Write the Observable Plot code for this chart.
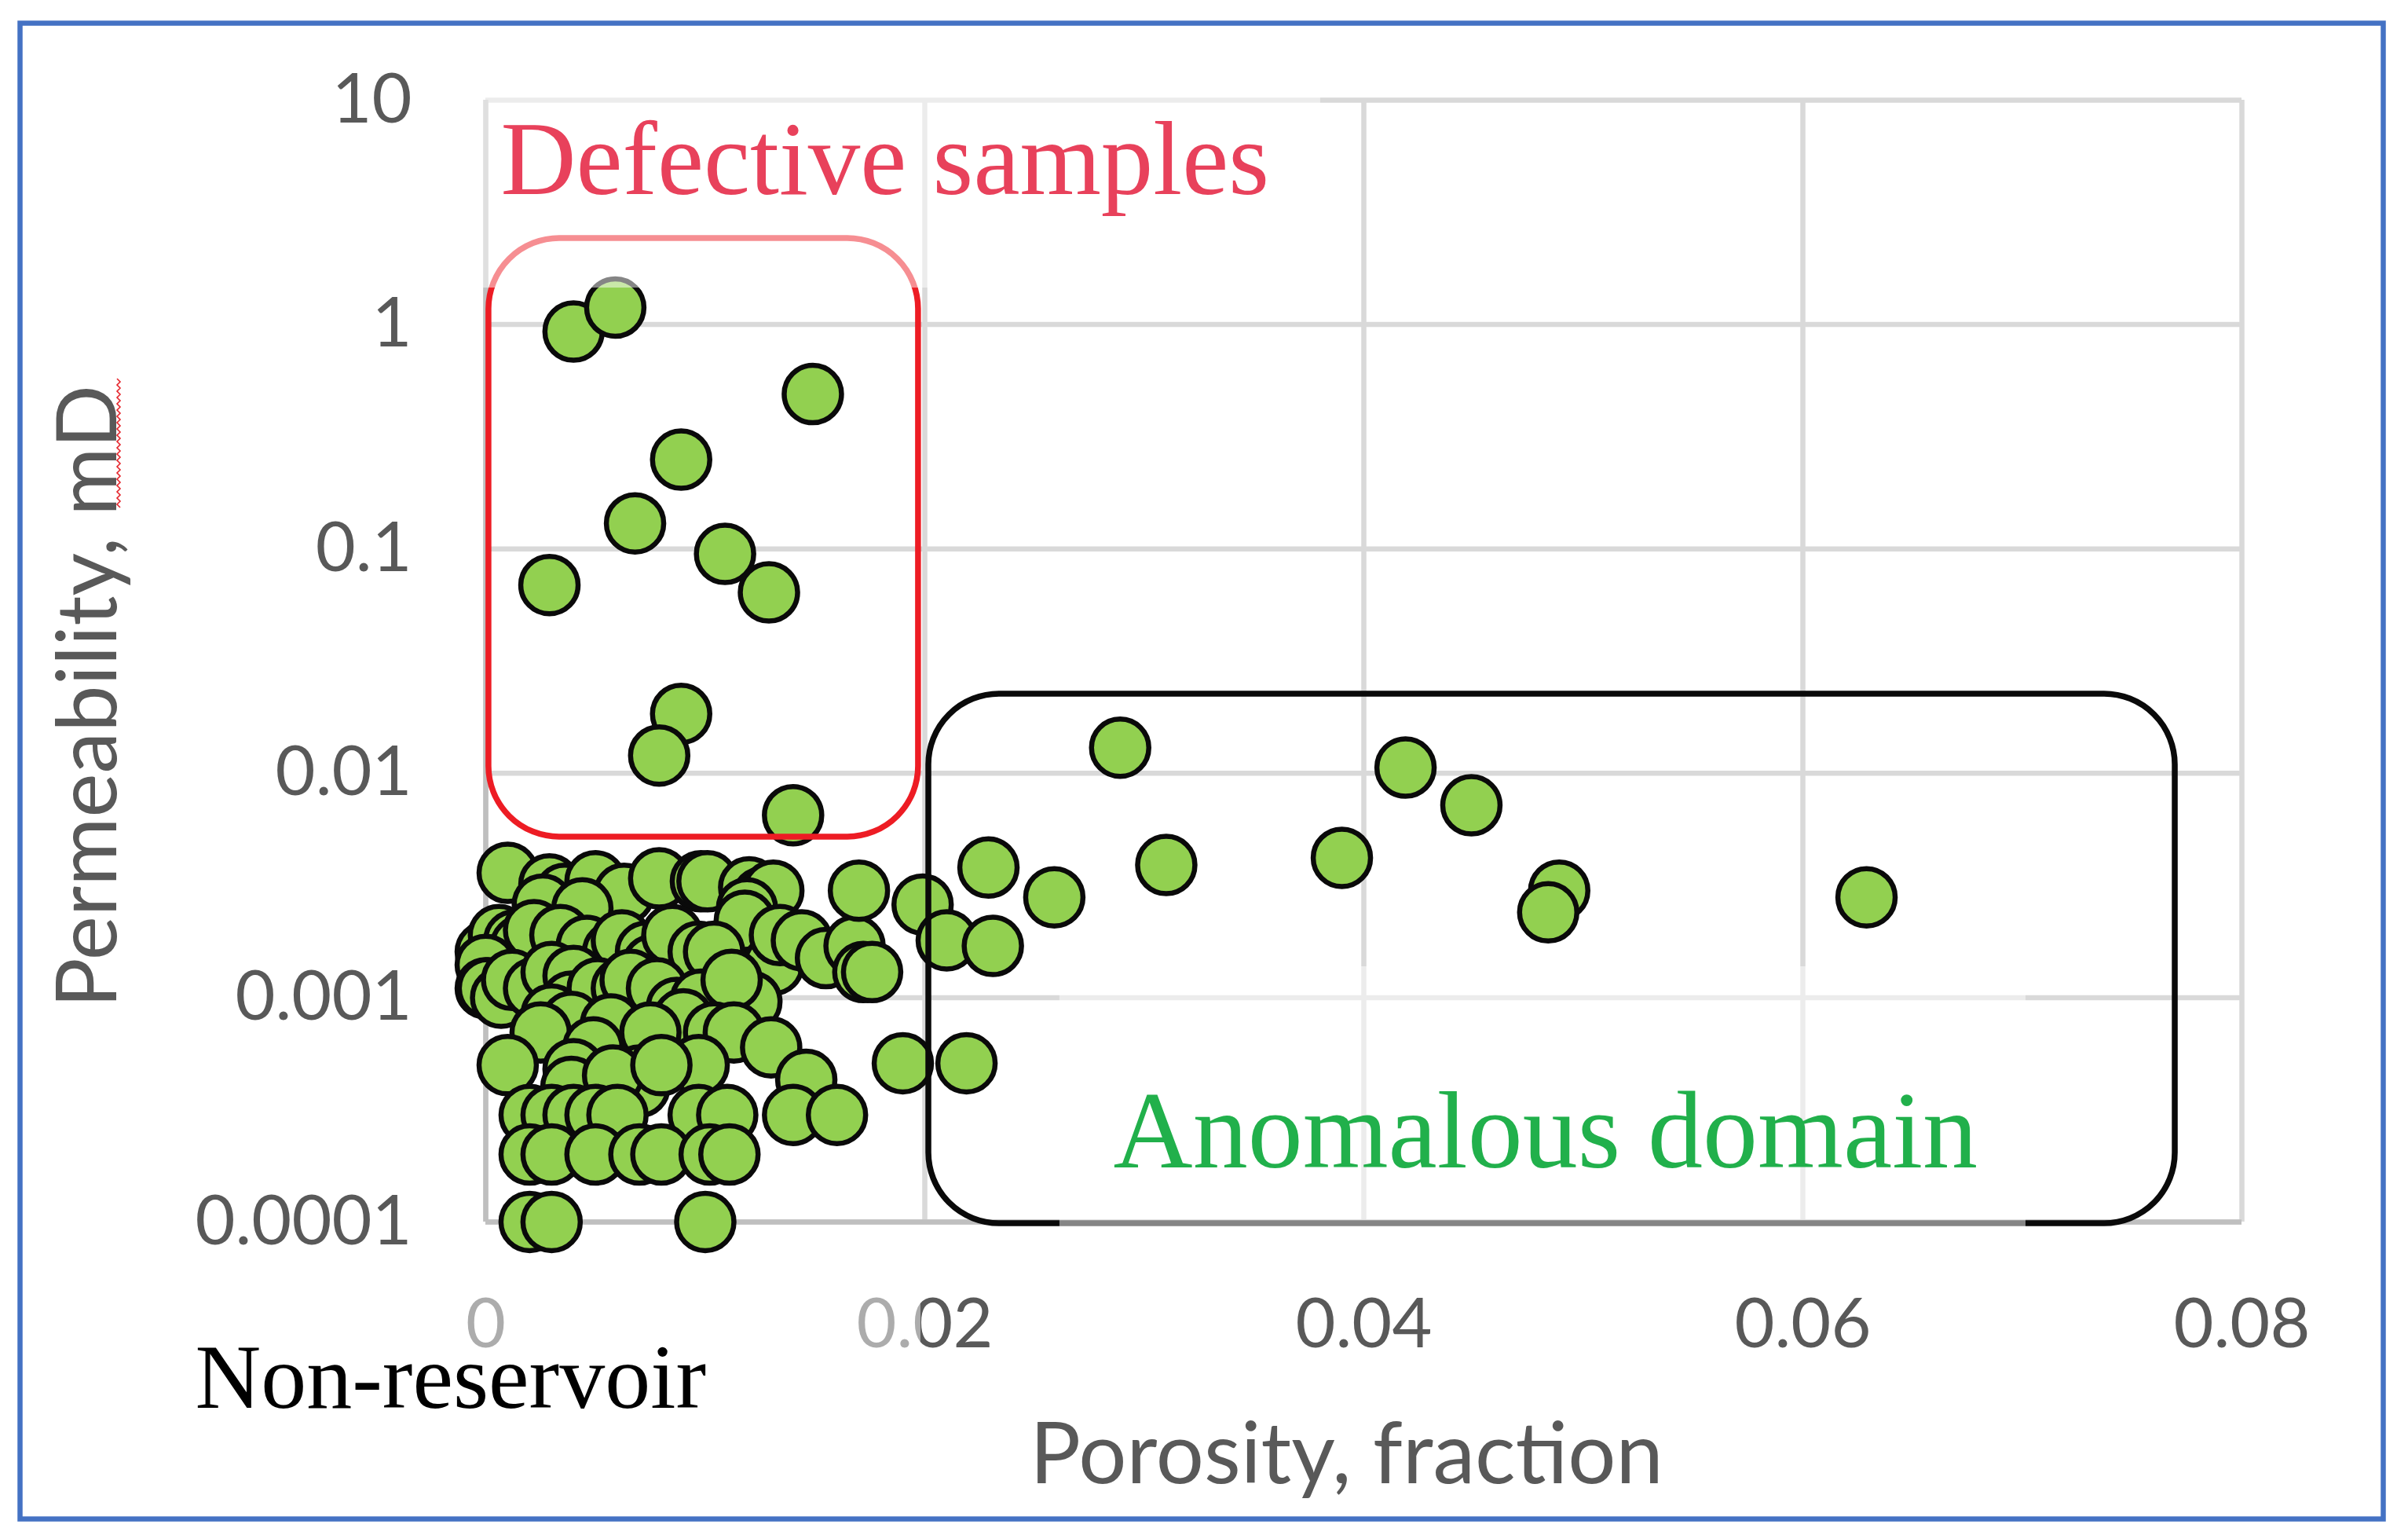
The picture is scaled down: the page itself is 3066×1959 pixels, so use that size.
<!DOCTYPE html>
<html>
<head>
<meta charset="utf-8">
<script src="https://cdn.jsdelivr.net/npm/d3@7"></script>
<script src="https://cdn.jsdelivr.net/npm/@observablehq/plot@0.6"></script>
<style>
html, body { margin: 0; padding: 0; background: #ffffff; overflow: hidden; }
#chart { width: 3066px; height: 1959px; }
</style>
</head>
<body>
<div id="chart"></div>
<script>
// ---- axis ticks ----
const xTicks = [0, 0.02, 0.04, 0.06, 0.08];
const xTickLabels = ["0", "0.02", "0.04", "0.06", "0.08"];
const yTicks = [0.0001, 0.001, 0.01, 0.1, 1, 10];
const yTickLabels = ["0.0001", "0.001", "0.01", "0.1", "1", "10"];

// ---- samples: porosity (fraction) / permeability (mD) ----
const defectivePorosity = [0.0040, 0.0059, 0.0149, 0.0089, 0.0068, 0.0109, 0.0029, 0.0129, 0.0089, 0.0079, 0.0140];
const defectivePerm     = [0.93,   1.19,   0.49,   0.25,   0.13,   0.095,  0.069,  0.064,  0.0184, 0.0120, 0.0065];

const anomalousPorosity = [0.0289, 0.0419, 0.0449, 0.0390, 0.0310, 0.0229, 0.0259, 0.0489, 0.0484, 0.0629, 0.0199, 0.0210, 0.0231, 0.0190, 0.0219, 0.0170];
const anomalousPerm     = [0.0130, 0.0106, 0.0072, 0.0042, 0.0039, 0.0038, 0.0028, 0.0030, 0.0024, 0.0028, 0.0026, 0.0018, 0.0017, 0.00051, 0.00051, 0.0030];

const clusterPorosity = [
  0.0010, 0.0029, 0.0036, 0.0050, 0.0063, 0.0079, 0.0098, 0.0101, 0.0120, 0.0126, 0.0131, 0.0119, 0.0118, 0.0026, 0.0044,
  0.0003, 0.0000, 0.0006, 0.0013, 0.0019, 0.0016, 0.0022, 0.0034, 0.0046, 0.0058, 0.0062, 0.0073, 0.0076, 0.0085, 0.0097,
  0.0104, 0.0131, 0.0134, 0.0144, 0.0155, 0.0168, 0.0172, 0.0176,
  0.0000, 0.0000, 0.0001, 0.0007, 0.0012, 0.0022, 0.0030, 0.0040, 0.0039, 0.0051, 0.0062, 0.0066, 0.0078, 0.0087, 0.0098,
  0.0121, 0.0112,
  0.0030, 0.0039, 0.0057, 0.0090, 0.0075, 0.0025, 0.0049, 0.0104, 0.0113,
  0.0010, 0.0097, 0.0040, 0.0070, 0.0039, 0.0070, 0.0130, 0.0146, 0.0058, 0.0080,
  0.0020, 0.0030, 0.0040, 0.0050, 0.0060, 0.0097, 0.0110, 0.0140, 0.0160,
  0.0020, 0.0030, 0.0050, 0.0070, 0.0080, 0.0102, 0.0111,
  0.0020, 0.0030, 0.0100
];
const clusterPerm = [
  0.0036, 0.0032, 0.0029, 0.0033, 0.0029, 0.0034, 0.0033, 0.0033, 0.0031, 0.0028, 0.0030, 0.0025, 0.0022, 0.0026, 0.0025,
  0.0017, 0.0016, 0.0019, 0.0018, 0.0015, 0.0017, 0.0020, 0.0019, 0.0017, 0.0016, 0.0018, 0.0016, 0.0014, 0.0019, 0.0016,
  0.0016, 0.0014, 0.0019, 0.0018, 0.0015, 0.0017, 0.0013, 0.0013,
  0.0014, 0.0011, 0.0011, 0.0010, 0.0012, 0.0011, 0.0013, 0.00125, 0.00096, 0.0011, 0.0011, 0.0012, 0.0011, 0.0009, 0.00098,
  0.00096, 0.0012,
  0.00084, 0.00078, 0.00076, 0.0008, 0.0007, 0.0007, 0.0006, 0.0007, 0.0007,
  0.0005, 0.0005, 0.00048, 0.00045, 0.0004, 0.0004, 0.0006, 0.00043, 0.00045, 0.0005,
  0.0003, 0.0003, 0.0003, 0.0003, 0.0003, 0.0003, 0.0003, 0.0003, 0.0003,
  0.0002, 0.0002, 0.0002, 0.0002, 0.0002, 0.0002, 0.0002,
  0.0001, 0.0001, 0.0001
];

// ---- annotation boxes (data units) ----
const boxX1 = [0.00014, 0.02018];
const boxX2 = [0.01971, 0.07696];
const boxY1 = [0.0052, 0.0000984];
const boxY2 = [2.42, 0.02254];
const boxColors = ["#ed1c24", "#0a0a0a"];

// semi-transparent text-box backgrounds (data units)
const veilX1 = [-0.00136, 0.02615, -0.01406];
const veilX2 = [0.03803, 0.07016, 0.01982];
const veilY1 = [1.455, 0.0000754, 0.000012];
const veilY2 = [12.6, 0.001374, 0.0000578];

// annotation labels
const noteTexts = ["Defective samples", "Anomalous domain", "Non-reservoir"];
const noteX = [0.00068, 0.02859, -0.01324];
const noteY = [5.38, 0.000251, 0.000020];
const noteColors = ["#e8415b", "#21b04b", "#000000"];
const noteSizes = [133, 140, 116];

// ---- build tables ----
const samples = [];
defectivePorosity.forEach((p, i) => samples.push({porosity: p, permeability: defectivePerm[i]}));
clusterPorosity.forEach((p, i) => samples.push({porosity: p, permeability: clusterPerm[i]}));
anomalousPorosity.forEach((p, i) => samples.push({porosity: p, permeability: anomalousPerm[i]}));

const boxes = boxX1.map((x1, i) => ({x1, x2: boxX2[i], y1: boxY1[i], y2: boxY2[i], color: boxColors[i]}));
const veils = veilX1.map((x1, i) => ({x1, x2: veilX2[i], y1: veilY1[i], y2: veilY2[i]}));
const notes = noteTexts.map((t, i) => ({text: t, x: noteX[i], y: noteY[i], color: noteColors[i], size: noteSizes[i]}));

const xLabel = new Map(xTicks.map((t, i) => [t, xTickLabels[i]]));
const yLabel = new Map(yTicks.map((t, i) => [t, yTickLabels[i]]));

const gridStyle = {stroke: "#d9d9d9", strokeOpacity: 1, strokeWidth: 6.5};
const axisLineStyle = {stroke: "#bfbfbf", strokeOpacity: 1, strokeWidth: 6.5};

const chart = Plot.plot({
  width: 3066,
  height: 1959,
  marginLeft: 618,
  marginRight: 212,
  marginTop: 127,
  marginBottom: 404,
  style: {fontFamily: "Lato, sans-serif", background: "#ffffff", overflow: "visible"},
  x: {domain: [0, 0.08]},
  y: {type: "log", domain: [0.0001, 10]},
  marks: [
    Plot.gridX(xTicks, gridStyle),
    Plot.gridY(yTicks, gridStyle),
    Plot.ruleX([0], axisLineStyle),
    Plot.ruleY([0.0001], axisLineStyle),
    Plot.axisX({ticks: xTicks, tickFormat: d => xLabel.get(d), tickSize: 0, tickPadding: 97, fontSize: 88, color: "#595959", label: null}),
    Plot.axisY({ticks: yTicks, tickFormat: d => yLabel.get(d), tickSize: 0, tickPadding: 94, fontSize: 88, color: "#595959", label: null}),
    Plot.dot(samples, {x: "porosity", y: "permeability", r: 36.5, fill: "#92d050", stroke: "#0a0a0a", strokeWidth: 6.5}),
    Plot.rect(boxes, {x1: "x1", x2: "x2", y1: "y1", y2: "y2", stroke: "color", fill: "none", strokeWidth: 7.5, rx: 90, ry: 90}),
    Plot.rect(veils, {x1: "x1", x2: "x2", y1: "y1", y2: "y2", fill: "#ffffff", fillOpacity: 0.5}),
    Plot.text(notes, {x: "x", y: "y", text: "text", fill: "color", fontSize: "size", textAnchor: "start", fontFamily: "Liberation Serif, serif"}),
    Plot.text(["Porosity, fraction"], {frameAnchor: "bottom", dx: -22, dy: 332, fontSize: 108, fill: "#595959"}),
    Plot.text(["Permeability, mD"], {frameAnchor: "left", rotate: -90, textAnchor: "middle", lineAnchor: "middle", dx: -504, dy: 45, fontSize: 106, fill: "#595959"}),
    Plot.frame({stroke: "#4472c4", strokeWidth: 6.5, insetLeft: -593, insetTop: -98, insetRight: -180, insetBottom: -378})
  ]
});

// spell-check squiggle under "mD" (as in the source image)
const squiggle = d3.range(0, 168, 4).map((d, i) => [151 + (i % 2 ? 2 : -2), 482 + d]);
d3.select(chart).append("path")
  .attr("d", d3.line()(squiggle))
  .attr("fill", "none")
  .attr("stroke", "#e5242b")
  .attr("stroke-width", 1.6);

document.getElementById("chart").appendChild(chart);
</script>
</body>
</html>
